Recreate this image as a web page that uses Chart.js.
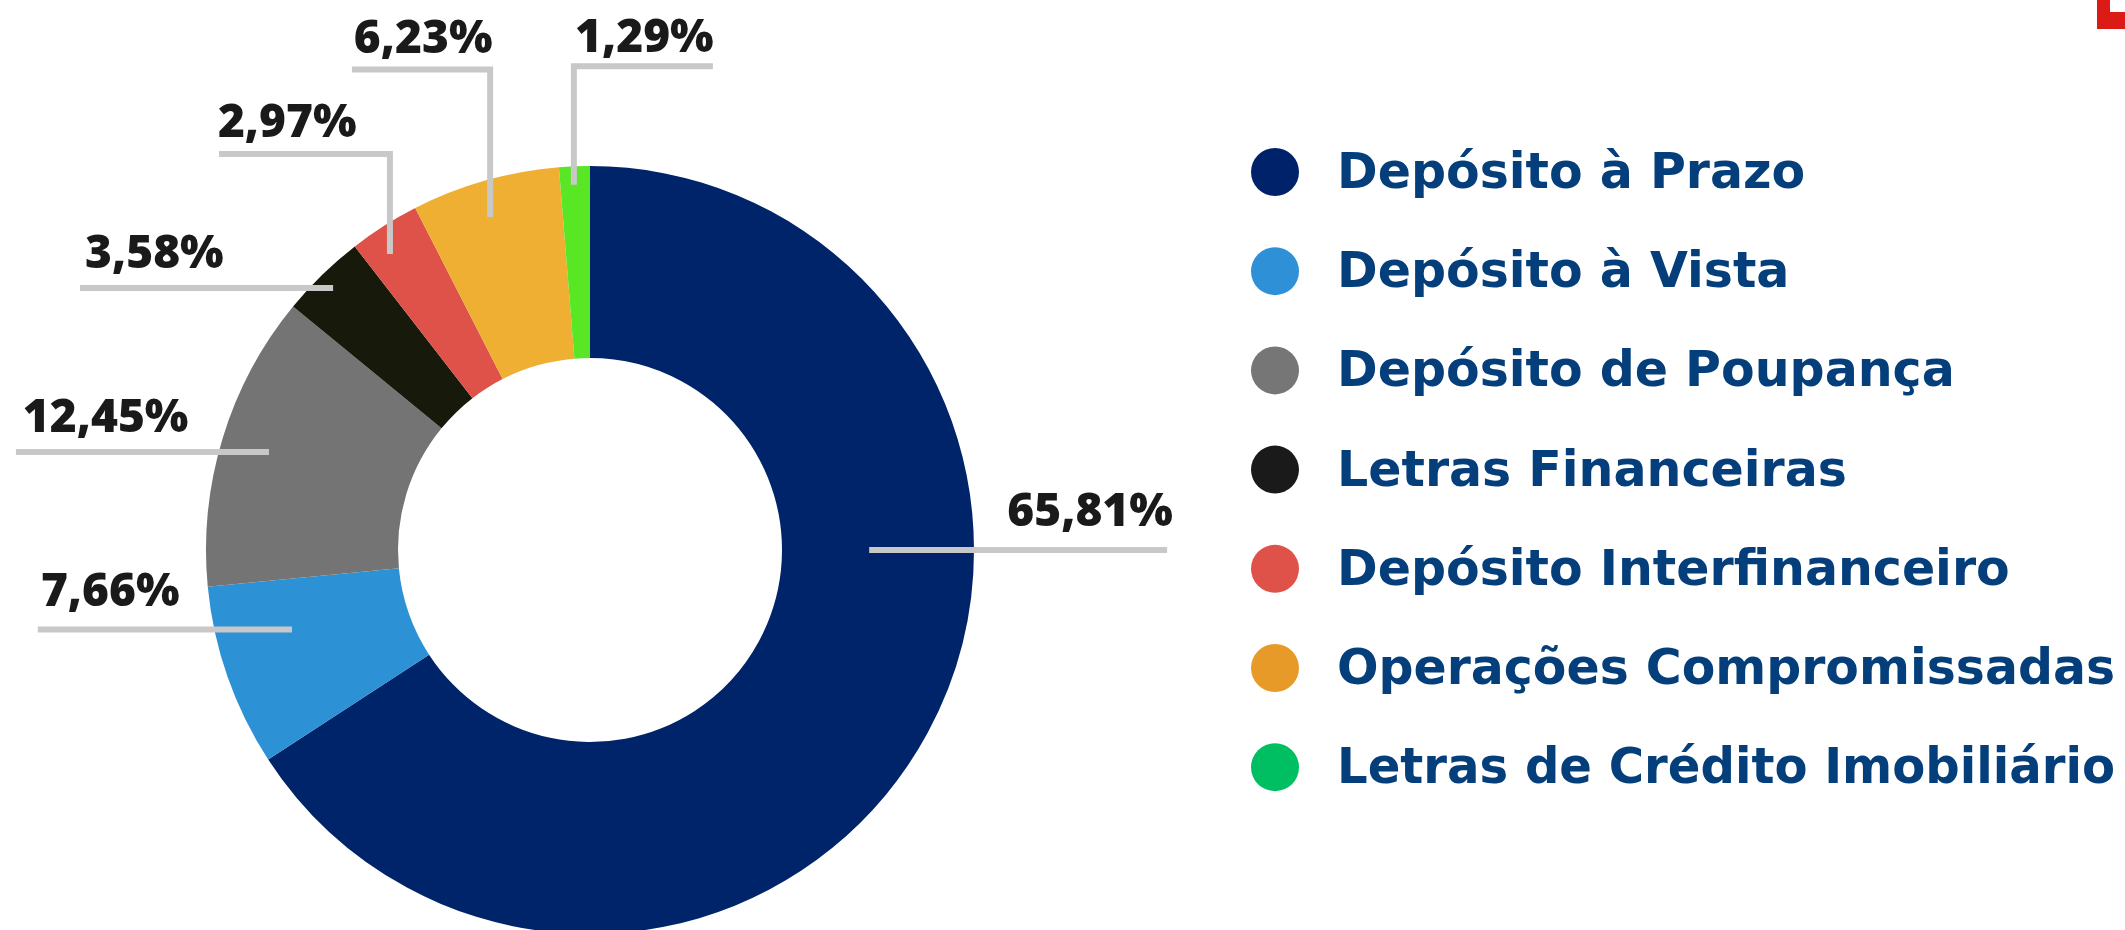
<!DOCTYPE html>
<html lang="pt-BR">
<head>
<meta charset="utf-8">
<title>Captação por produto</title>
<script src="https://cdn.jsdelivr.net/npm/chart.js@4.4.1/dist/chart.umd.min.js"></script>
<style>
  html, body { margin: 0; padding: 0; background: #fff; }
  .graphContainer { position: relative; width: 2125px; height: 930px; overflow: hidden; }
  /* bit of the red logo cut off at the top right corner */
  .cornerMark { position: absolute; top: 0; right: 0; width: 28px; height: 29px; background: #dc1b16; }
  .cornerMark::after { content: ''; position: absolute; top: 0; right: 0; width: 15px; height: 12px; background: #fff; }
</style>
</head>
<body>
<div class="graphContainer">
  <canvas id="myChart"></canvas>
  <div class="cornerMark"></div>
</div>
<script>
const categories = [
  'Depósito à Prazo',
  'Depósito à Vista',
  'Depósito de Poupança',
  'Letras Financeiras',
  'Depósito Interfinanceiro',
  'Operações Compromissadas',
  'Letras de Crédito Imobiliário'
];
const shares = [65.81, 7.66, 12.45, 3.58, 2.97, 6.23, 1.29];
const sliceColors = ['#00246a', '#2d91d6', '#747474', '#17190b', '#de5249', '#eeaf33', '#58e625'];
const legendColors = ['#00226a', '#2e90d6', '#767676', '#1a1a1a', '#df5249', '#e79a27', '#00bf63'];

// leader lines + label spots, in units of the outer radius, from the centre
const labelLayout = [
  {line: [[0.727, 0], [1.503, 0]], text: [1.518, -0.0625], align: 'right'},
  {line: [[-0.776, 0.207], [-1.438, 0.207]], text: [-1.430, 0.146], align: 'left'},
  {line: [[-0.836, -0.255], [-1.495, -0.255]], text: [-1.477, -0.307], align: 'left'},
  {line: [[-0.669, -0.682], [-1.328, -0.682]], text: [-1.315, -0.734], align: 'left'},
  {line: [[-0.521, -0.771], [-0.521, -1.031], [-0.966, -1.031]], text: [-0.969, -1.076], align: 'left'},
  {line: [[-0.260, -0.867], [-0.260, -1.251], [-0.620, -1.251]], text: [-0.615, -1.294], align: 'left'},
  {line: [[-0.042, -0.951], [-0.042, -1.260], [0.320, -1.260]], text: [-0.039, -1.297], align: 'left'}
];

const formatShare = (v) => v.toFixed(2).replace('.', ',') + '%';

const leaderLabels = {
  id: 'leaderLabels',
  afterDatasetsDraw(chart) {
    const arc = chart.getDatasetMeta(0).data[0];
    const cx = arc.x, cy = arc.y, r = arc.outerRadius;
    const ctx = chart.ctx;
    ctx.save();
    ctx.strokeStyle = '#c8c8c8';
    ctx.lineWidth = 6;
    ctx.lineCap = 'butt';
    ctx.lineJoin = 'miter';
    ctx.font = '800 46px "Open Sans"';
    ctx.fillStyle = '#1a1a1a';
    ctx.textBaseline = 'alphabetic';
    chart.data.datasets[0].data.forEach((v, i) => {
      const spec = labelLayout[i];
      ctx.beginPath();
      spec.line.forEach(([dx, dy], k) => {
        if (k === 0) ctx.moveTo(cx + dx * r, cy + dy * r);
        else ctx.lineTo(cx + dx * r, cy + dy * r);
      });
      ctx.stroke();
      ctx.textAlign = spec.align;
      ctx.fillText(formatShare(v), cx + spec.text[0] * r, cy + spec.text[1] * r);
    });
    ctx.restore();
  }
};

// legend on the right, dots + dark blue text
const sideLegend = {
  id: 'sideLegend',
  afterDraw(chart) {
    const ctx = chart.ctx;
    const left = 1275, top = 172, step = 99.2;
    ctx.save();
    ctx.font = 'bold 49px "DejaVu Sans"';
    ctx.textAlign = 'left';
    ctx.textBaseline = 'alphabetic';
    chart.data.labels.forEach((label, i) => {
      const y = top + i * step;
      ctx.fillStyle = legendColors[i];
      ctx.beginPath();
      ctx.arc(left, y, 24, 0, Math.PI * 2);
      ctx.fill();
      ctx.fillStyle = '#053f7b';
      // squeeze the longest names so they stop at the edge like the original
      ctx.fillText(label, left + 62, y + 16, 778);
    });
    ctx.restore();
  }
};

new Chart(document.getElementById('myChart').getContext('2d'), {
  type: 'doughnut',
  data: {
    labels: categories,
    datasets: [{
      data: shares,
      backgroundColor: sliceColors,
      borderWidth: 0,
      radius: 384,
      cutout: '50%'
    }]
  },
  options: {
    responsive: true,
    maintainAspectRatio: false,
    animation: false,
    layout: {padding: {left: 0, right: 945, top: 170, bottom: 0}},
    plugins: {
      legend: {display: false},
      tooltip: {enabled: false}
    }
  },
  plugins: [leaderLabels, sideLegend]
});
</script>
</body>
</html>
